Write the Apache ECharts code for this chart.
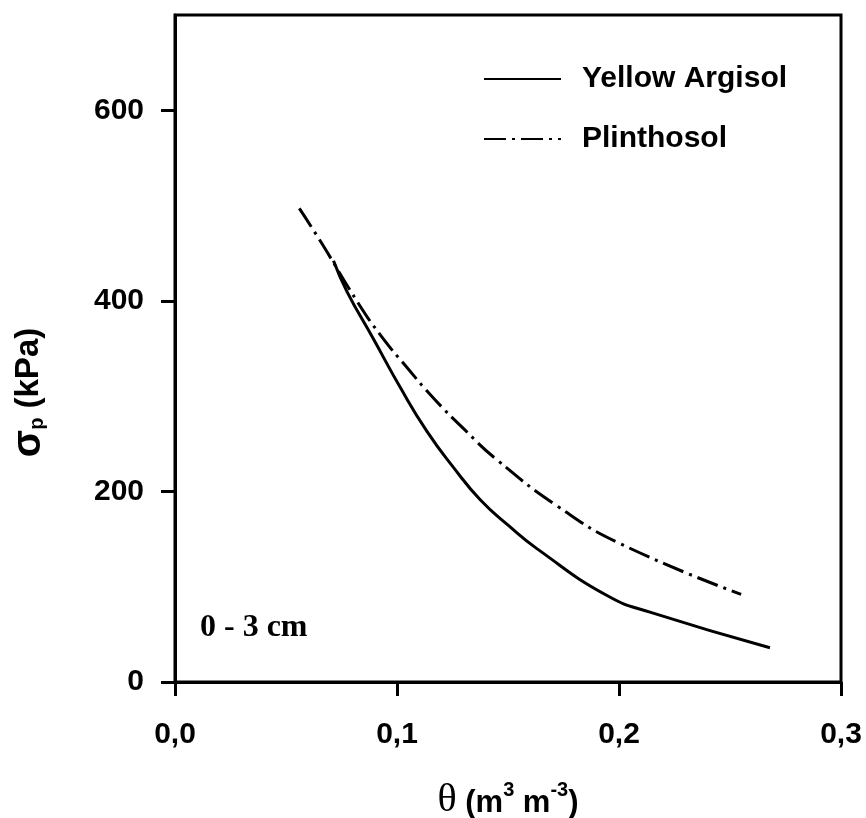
<!DOCTYPE html>
<html>
<head>
<meta charset="utf-8">
<script src="https://cdn.jsdelivr.net/npm/echarts@6/dist/echarts.min.js"></script>
<style>
  html, body { margin: 0; padding: 0; background: #fff; }
  #chart { width: 866px; height: 818px; }
</style>
</head>
<body>
<div id="chart"></div>
<script>
// values
var argisolTheta = [0.0714, 0.0774, 0.0894, 0.1015, 0.1135, 0.1255, 0.1376, 0.1503, 0.163, 0.1944, 0.2143, 0.268];
var argisolSigma = [442, 410, 360, 309, 263, 225, 191, 164, 140, 91, 73, 36];

var plinthoTheta = [0.056, 0.0654, 0.0827, 0.0929, 0.1045, 0.1168, 0.1308, 0.1446, 0.172, 0.2007, 0.255];
var plinthoSigma = [497, 463, 397, 363, 330, 297, 264, 234, 185, 145, 92];

var xTicks = [0, 0.1, 0.2, 0.3];
var yTicks = [0, 200, 400, 600];

var sans = "'Liberation Sans', Arial, sans-serif";
var serif = "'Liberation Serif', 'Times New Roman', serif";

function pairs(xs, ys) {
  return xs.map(function (x, i) { return [x, ys[i]]; });
}

var option = {
  animation: false,
  backgroundColor: '#fff',
  title: {
    text: '0 - 3 cm',
    left: 195,
    top: 607,
    textStyle: { fontFamily: serif, fontWeight: 'bold', fontSize: 32, color: '#000' }
  },
  legend: {
    orient: 'vertical',
    left: 483,
    top: 62,
    padding: 0,
    itemWidth: 77,
    itemHeight: 20,
    itemGap: 26,
    data: ['Yellow Argisol', 'Plinthosol'],
    itemStyle: { opacity: 0 },
    textStyle: {
      fontFamily: sans, fontWeight: 'bold', fontSize: 30, color: '#000',
      lineHeight: 34, padding: [0, 0, 0, 16]
    }
  },
  grid: {
    left: 175, right: 25, top: 15, bottom: 136,
    outerBoundsMode: 'none',
    containLabel: false,
    show: true, borderColor: '#000', borderWidth: 3
  },
  xAxis: {
    type: 'value',
    min: 0, max: 0.3,
    name: '{t|θ}{n| (m}{sup|3}{n| m}{sup|-3}{n|)}',
    nameLocation: 'middle',
    nameGap: 98,
    nameTextStyle: {
      rich: {
        t: { fontFamily: serif, fontSize: 40, lineHeight: 40, color: '#000' },
        n: { fontFamily: sans, fontWeight: 'bold', fontSize: 31, lineHeight: 40, verticalAlign: 'bottom', color: '#000', padding: [0, 0, 1, 0] },
        sup: { fontFamily: sans, fontWeight: 'bold', fontSize: 20, lineHeight: 20, verticalAlign: 'top', color: '#000' }
      }
    },
    splitLine: { show: false },
    axisLine: { onZero: false, lineStyle: { color: '#000', width: 3 } },
    axisTick: { length: 14, lineStyle: { color: '#000', width: 3 }, customValues: xTicks },
    axisLabel: {
      margin: 38,
      customValues: xTicks,
      fontFamily: sans, fontWeight: 'bold', fontSize: 30, color: '#000',
      formatter: function (v) { return v.toFixed(1).replace('.', ','); }
    }
  },
  yAxis: {
    type: 'value',
    min: 0, max: 700,
    name: '{s|σ}{sub|p}{n| (kPa)}',
    nameLocation: 'middle',
    nameGap: 128,
    nameRotate: 90,
    nameTextStyle: {
      padding: [0, 88, 0, 0],
      rich: {
        s: { fontFamily: sans, fontWeight: 'bold', fontSize: 40, lineHeight: 36, color: '#000' },
        sub: { fontFamily: sans, fontWeight: 'bold', fontSize: 20, lineHeight: 10, verticalAlign: 'bottom', color: '#000' },
        n: { fontFamily: sans, fontWeight: 'bold', fontSize: 33, lineHeight: 36, color: '#000' }
      }
    },
    splitLine: { show: false },
    axisLine: { onZero: false, lineStyle: { color: '#000', width: 3 } },
    axisTick: { length: 14, lineStyle: { color: '#000', width: 3 }, customValues: yTicks },
    axisLabel: {
      margin: 31,
      customValues: yTicks,
      fontFamily: sans, fontWeight: 'bold', fontSize: 30, color: '#000'
    }
  },
  series: [
    {
      name: 'Yellow Argisol',
      type: 'line',
      smooth: 0.5,
      symbol: 'none',
      lineStyle: { color: '#000', width: 3 },
      itemStyle: { color: '#000' },
      data: pairs(argisolTheta, argisolSigma)
    },
    {
      name: 'Plinthosol',
      type: 'line',
      smooth: 0.5,
      symbol: 'none',
      lineStyle: { color: '#000', width: 3, type: [22, 6, 3, 6] },
      itemStyle: { color: '#000' },
      data: pairs(plinthoTheta, plinthoSigma)
    }
  ]
};

echarts.init(document.getElementById('chart')).setOption(option);
</script>
</body>
</html>
